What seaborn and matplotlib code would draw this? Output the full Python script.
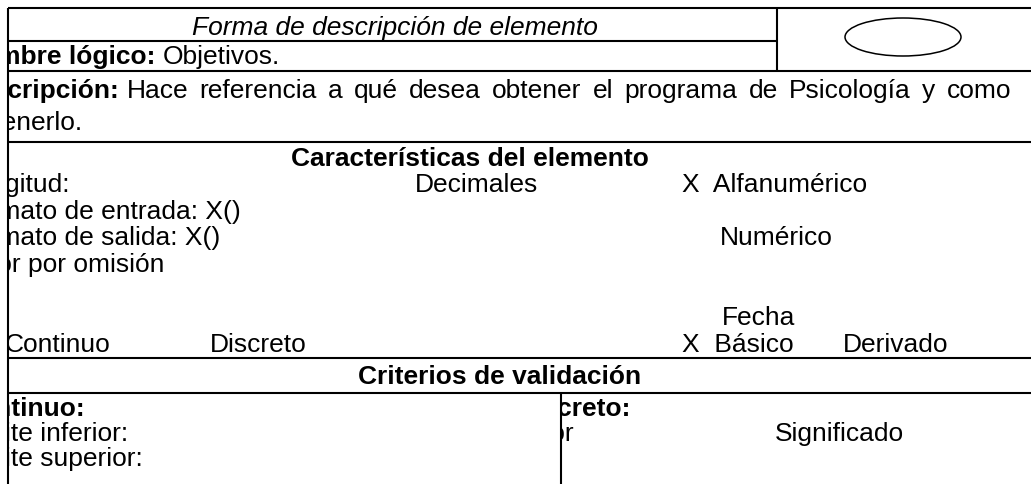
import matplotlib
matplotlib.use("Agg")
import matplotlib.pyplot as plt
import seaborn as sns
from matplotlib.patches import Ellipse
from matplotlib.transforms import Bbox, TransformedBbox

# form content
title = "Forma de descripción de elemento"
name_label, name_value = "Nombre lógico:", "Objetivos."
desc_label = "Descripción:"
desc_lines = ["Hace referencia a qué desea obtener el programa de Psicología y como", "obtenerlo."]
sections = ["Características del elemento", "Criterios de validación"]
fields = ["Longitud:", "Formato de entrada: X()", "Formato de salida: X()", "Valor por omisión"]
data_types = ["Decimales", "X  Alfanumérico", "Numérico", "Fecha"]
kinds = ["Continuo", "Discreto", "X  Básico", "Derivado"]
continuous = ["Continuo:", "Límite inferior:", "Límite superior:"]
discrete = ["Discreto:", "Valor", "Significado"]

sns.set_theme(style="white")
plt.rcParams["font.family"] = ["Liberation Sans", "DejaVu Sans"]
plt.rcParams["text.color"] = "black"
FS = 19

W, H = 1031, 485
LEFT, MID, SPLIT = 8, 561, 777

fig = plt.figure(figsize=(W / 100, H / 100), dpi=100)
ax = fig.add_axes([0, 0, 1, 1])
ax.set_xlim(0, W)
ax.set_ylim(H, 0)
ax.axis("off")
renderer = fig.canvas.get_renderer()


def width(s, **kw):
    t = ax.text(0, 0, s, fontsize=FS, **kw)
    w = t.get_window_extent(renderer).width
    t.remove()
    return w


def put(x, y, s, clip_x=None, **kw):
    t = ax.text(x, y, s, fontsize=FS, va="baseline", clip_on=clip_x is not None, **kw)
    if clip_x is not None:
        t.set_clip_path(None)
        t.set_clip_box(TransformedBbox(Bbox([[clip_x, 0], [W, H]]), ax.transData))
    return t


def clipped(y, s, prefix, part, frac, clip_x=LEFT, **kw):
    x = clip_x - width(prefix, **kw) - (frac * width(part, **kw) if part else 0)
    put(x, y, s, clip_x=clip_x, **kw)
    return x


def justified(x0, x1, y, s):
    words = s.split()
    widths = [width(w) for w in words]
    gap = (x1 - x0 - sum(widths)) / (len(words) - 1)
    x = x0
    for w, wd in zip(words, widths):
        put(x, y, w)
        x += wd + gap


space = width("a a") - width("aa")

# rules
for y, x0, x1 in [(9, LEFT, W), (42, LEFT, SPLIT), (72, LEFT, W), (143, LEFT, W),
                  (359, LEFT, W), (394, LEFT, W)]:
    ax.plot([x0, x1], [y, y], color="black", lw=1.5, solid_capstyle="butt")
for x, y0, y1 in [(LEFT, 9, H), (SPLIT, 9, 72), (MID, 394, H)]:
    ax.plot([x, x], [y0, y1], color="black", lw=1.5, solid_capstyle="butt")
ax.add_patch(Ellipse((903, 38), 116, 38, fill=False, ec="black", lw=1.1))

# header
put(395, 35, title, ha="center", style="italic")
x = clipped(64, name_label, "No", "m", 0.45, weight="bold")
put(x + width(name_label, weight="bold") + space, 64, name_value)
x = clipped(98, desc_label, "Des", None, 0, weight="bold")
justified(x + width(desc_label, weight="bold") + space, 1011, 98, desc_lines[0])
clipped(130, desc_lines[1], "obt", "e", 0.35)

# characteristics
put(470, 166, sections[0], ha="center", weight="bold")
rows = [192, 219, 245, 272, 325, 352]
clipped(rows[0], fields[0], "Lon", "g", 0.15)
clipped(rows[1], fields[1], "For", "m", 0.45)
clipped(rows[2], fields[2], "For", "m", 0.45)
clipped(rows[3], fields[3], "Val", "o", 0.75)
put(415, rows[0], data_types[0])
put(682, rows[0], data_types[1])
put(720, rows[2], data_types[2])
put(722, rows[4], data_types[3])
clipped(rows[5], kinds[0], "", "C", 0.2)
put(210, rows[5], kinds[1])
put(682, rows[5], kinds[2])
put(843, rows[5], kinds[3])

# validation
put(500, 384, sections[1], ha="center", weight="bold")
bottom = [416, 441, 466]
clipped(bottom[0], continuous[0], "Co", "n", 0.75, weight="bold")
clipped(bottom[1], continuous[1], "Lím", "i", 0.5)
clipped(bottom[2], continuous[2], "Lím", "i", 0.5)
clipped(bottom[0], discrete[0], "Dis", "c", 0.25, clip_x=MID, weight="bold")
clipped(bottom[1], discrete[1], "Val", "o", 0.7, clip_x=MID)
put(775, bottom[1], discrete[2])

fig.savefig("out.png", dpi=100, facecolor="white")
